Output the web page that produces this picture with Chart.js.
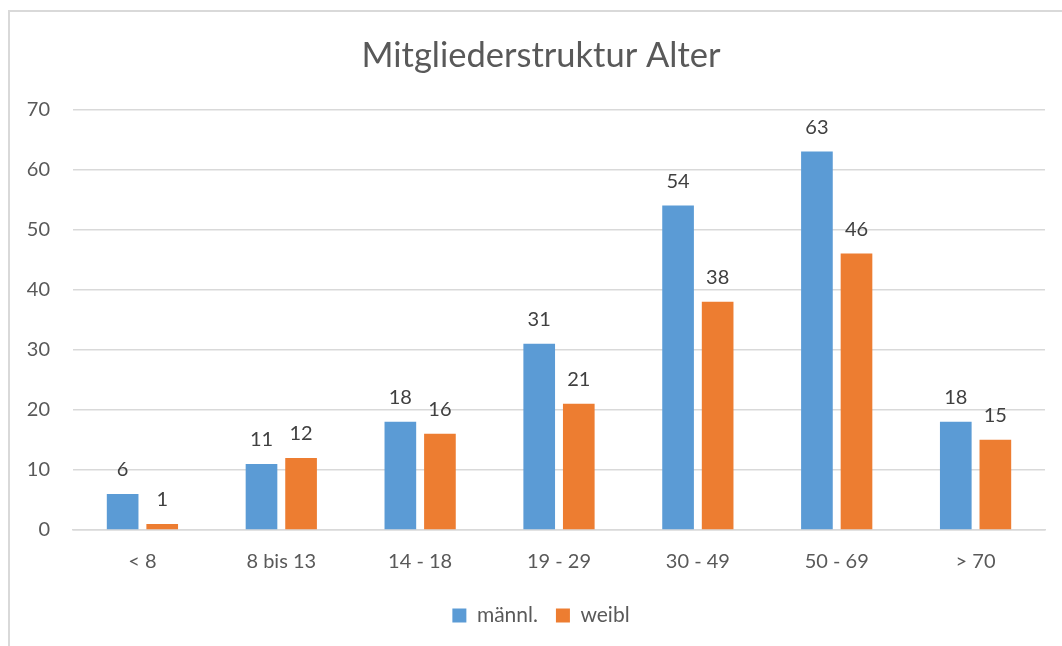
<!DOCTYPE html>
<html>
<head>
<meta charset="utf-8">
<script src="https://cdn.jsdelivr.net/npm/chart.js@4/dist/chart.umd.min.js"></script>
<style>
html,body{margin:0;padding:0;background:#fff;overflow:hidden;}
#frame{position:absolute;left:8px;top:10px;width:1200px;height:800px;border-left:2px solid #d9d9d9;border-top:2px solid #d9d9d9;box-sizing:border-box;}
#c{position:absolute;left:0;top:0;}
</style>
</head>
<body>
<div id="frame"></div>
<canvas id="c" width="1062" height="646"></canvas>
<script>
const categories = ["< 8", "8 bis 13", "14 - 18", "19 - 29", "30 - 49", "50 - 69", "> 70"];
const maleValues = [6, 11, 18, 31, 54, 63, 18];
const femaleValues = [1, 12, 16, 21, 38, 46, 15];
const yTicks = [0, 10, 20, 30, 40, 50, 60, 70];

const FONT = "Lato, 'Liberation Sans', sans-serif";

const valueLabels = {
  id: 'valueLabels',
  afterDatasetsDraw(chart) {
    const ctx = chart.ctx;
    ctx.save();
    ctx.font = "20px " + FONT;
    ctx.fillStyle = "#404040";
    ctx.textAlign = "center";
    ctx.textBaseline = "middle";
    chart.data.datasets.forEach((ds, i) => {
      const meta = chart.getDatasetMeta(i);
      meta.data.forEach((bar, j) => {
        ctx.fillText(String(ds.data[j]), bar.x, bar.y - 24);
      });
    });
    ctx.restore();
  }
};

// shift the title and legend boxes so they are centred like the original frame
const shiftBoxes = {
  id: 'shiftBoxes',
  afterLayout(chart) {
    if (chart.titleBlock) { chart.titleBlock.left = 37; }
    if (chart.legend) { chart.legend.left = 37; }
  }
};

new Chart(document.getElementById('c'), {
  type: 'bar',
  data: {
    labels: categories,
    datasets: [
      { label: 'männl.', data: maleValues, backgroundColor: '#5B9BD5', barPercentage: 0.8, categoryPercentage: 0.57 },
      { label: 'weibl', data: femaleValues, backgroundColor: '#ED7D31', barPercentage: 0.8, categoryPercentage: 0.57 }
    ]
  },
  options: {
    responsive: false,
    animation: false,
    layout: { padding: { left: 0, right: 17, top: 0, bottom: 10 } },
    plugins: {
      title: {
        display: true,
        text: 'Mitgliederstruktur Alter',
        color: '#595959',
        font: { family: FONT, size: 34.5, weight: 'normal' },
        padding: { top: 35, bottom: 33 }
      },
      legend: {
        position: 'bottom',
        labels: {
          color: '#595959',
          font: { family: FONT, size: 21 },
          boxWidth: 14,
          boxHeight: 14,
          padding: 18
        }
      },
      tooltip: { enabled: false }
    },
    scales: {
      x: {
        grid: { display: false, drawTicks: false },
        border: { display: true, color: '#d9d9d9', width: 1.5 },
        ticks: { color: '#595959', font: { family: FONT, size: 20 }, padding: 20 },
        afterFit(scale) { scale.height = 57; }
      },
      y: {
        min: 0, max: 70,
        afterBuildTicks(scale) { scale.ticks = yTicks.map(v => ({ value: v })); },
        grid: { color: '#d9d9d9', lineWidth: 1.5, drawTicks: false },
        border: { display: false },
        ticks: { color: '#595959', font: { family: FONT, size: 20 }, padding: 23 },
        afterFit(scale) { scale.width = 73; }
      }
    }
  },
  plugins: [valueLabels, shiftBoxes]
});
</script>
</body>
</html>
